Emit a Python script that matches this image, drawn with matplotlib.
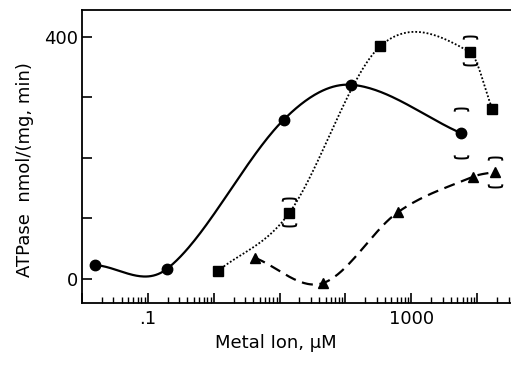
import numpy as np
import matplotlib
matplotlib.use('Agg')
import matplotlib.pyplot as plt
from matplotlib.path import Path
from matplotlib.ticker import LogLocator, NullFormatter

plt.rcParams['font.family'] = ['DejaVu Sans']

# circles, solid line
circ_x = [0.0157, 0.194, 11.5, 123, 5700]
circ_y = [23, 16.5, 263, 321, 241]
# squares, dotted line
sq_x = [1.15, 14, 340, 7800, 17000]
sq_y = [13, 109, 385, 375, 281]
# triangles, dashed line
tri_x = [4.2, 45, 620, 8700, 18600]
tri_y = [35, -7, 110, 169, 177]

# bracket (error) marks: x, centre, half-range
err_x = [14, 5700, 7800, 18600]
err_y = [111, 241, 377, 177]
err_d = [23, 41, 24, 25]


def smooth(xs, ys, n=60):
    # hermite curve through the points, in log10(x)
    t = np.log10(xs)
    y = np.asarray(ys, float)
    m = len(t)
    d = np.zeros(m)
    d[0] = (y[1] - y[0]) / (t[1] - t[0])
    d[-1] = (y[-1] - y[-2]) / (t[-1] - t[-2])
    for i in range(1, m - 1):
        d[i] = (y[i + 1] - y[i - 1]) / (t[i + 1] - t[i - 1])
    out_t, out_y = [], []
    for i in range(m - 1):
        h = t[i + 1] - t[i]
        s = np.linspace(0, 1, n)
        h00 = 2 * s**3 - 3 * s**2 + 1
        h10 = s**3 - 2 * s**2 + s
        h01 = -2 * s**3 + 3 * s**2
        h11 = s**3 - s**2
        out_t.append(t[i] + s * h)
        out_y.append(h00 * y[i] + h10 * h * d[i] + h01 * y[i + 1] + h11 * h * d[i + 1])
    return 10**np.concatenate(out_t), np.concatenate(out_y)


fig = plt.figure(figsize=(5.11, 3.65), dpi=100)
ax = fig.add_axes([82 / 511, 62 / 365, 1 - 82 / 511, 293 / 365])

sx, sy = smooth(circ_x, circ_y)
ax.plot(sx, sy, color='black', lw=1.6)
sx, sy = smooth(sq_x, sq_y)
ax.plot(sx, sy, color='black', lw=1.3, linestyle=(0, (1, 1.1)))
sx, sy = smooth(tri_x, tri_y)
ax.plot(sx, sy, color='black', lw=1.6, linestyle=(0, (5, 3)))

ax.plot(circ_x, circ_y, 'o', color='black', ms=7.5)
ax.plot(sq_x, sq_y, 's', color='black', ms=6.5)
ax.plot(tri_x, tri_y, '^', color='black', ms=7)

a = np.linspace(0, np.pi, 9)
cap_top = Path(np.column_stack([-np.cos(a), 0.45 * np.sin(a) ** 0.3 - 0.45]))
cap_bot = Path(np.column_stack([-np.cos(a), 0.45 - 0.45 * np.sin(a) ** 0.3]))
ex = np.array(err_x)
ey = np.array(err_y)
ed = np.array(err_d)
ax.plot(ex, ey + ed, linestyle='none', marker=cap_top, ms=10, mew=1.4,
        mfc='none', mec='black')
ax.plot(ex, ey - ed, linestyle='none', marker=cap_bot, ms=10, mew=1.4,
        mfc='none', mec='black')

ax.set_xscale('log')
ax.set_xlim(0.0104, 32700)
ax.set_ylim(-39.7, 444.6)

ax.set_xticks([0.01, 0.1, 1, 10, 100, 1000, 10000])
ax.set_xticklabels(['', '.1', '', '', '', '1000', ''])
ax.xaxis.set_minor_locator(LogLocator(base=10, subs=np.arange(2, 10), numticks=20))
ax.xaxis.set_minor_formatter(NullFormatter())

ax.set_yticks([0, 100, 200, 300, 400])
ax.set_yticklabels(['0', '', '', '', '400'])

ax.tick_params(axis='x', which='major', direction='in', length=7, width=1.2,
               labelsize=13, pad=5)
ax.tick_params(axis='x', which='minor', direction='in', length=4, width=1.0)
ax.tick_params(axis='y', which='major', direction='in', length=7, width=1.2,
               labelsize=13, pad=3)

ax.spines['right'].set_visible(False)
for s in ['left', 'bottom', 'top']:
    ax.spines[s].set_linewidth(1.3)

ax.set_xlabel('Metal Ion, \u03bcM', fontsize=13)
ax.set_ylabel('ATPase  nmol/(mg, min)', fontsize=13)
ax.xaxis.set_label_coords(0.452, -0.105)
ax.yaxis.set_label_coords(-0.112, 0.454)

fig.savefig('out.png', dpi=100)
